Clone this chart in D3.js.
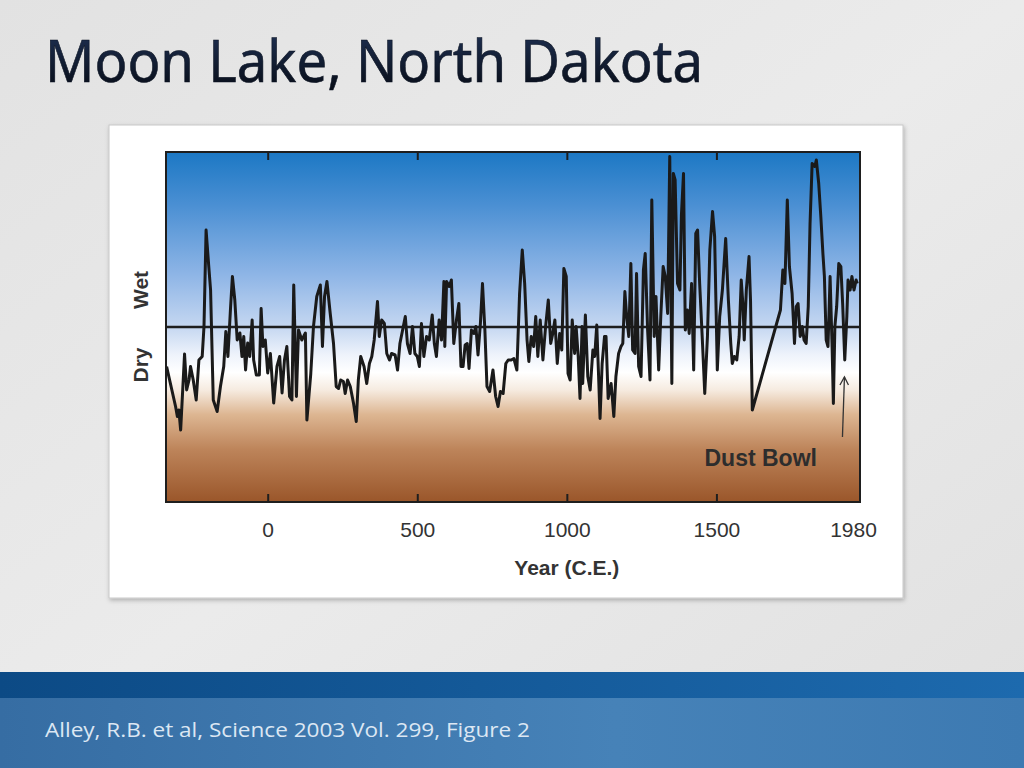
<!DOCTYPE html>
<html>
<head>
<meta charset="utf-8">
<script src="https://cdn.jsdelivr.net/npm/d3@7"></script>
<style>
  html, body { margin: 0; padding: 0; overflow: hidden; }
  svg { display: block; }
</style>
</head>
<body>
<script>
// Moon Lake moisture record (0 = long term mean)
var years = [-338,-308,-302,-297,-291,-278,-271,-263,-258,-249,-239,-230,-219,-213,-206,-197,-191,-182,-169,-158,
  -147,-140,-133,-124,-118,-110,-102,-93,-86,-80,-74,-67,-60,-52,-47,-38,-28,-22,-16,-8,
  0,9,20,31,40,48,56,64,73,81,87,96,103,114,126,
  131,144,153,164,176,183,190,198,209,220,229,237,244,253,259,267,276,287,296,303,
  311,322,331,340,348,356,367,373,381,390,398,407,414,426,434,442,451,460,467,476,
  484,492,500,507,514,522,531,540,550,557,564,573,581,589,
  592,598,607,614,622,631,639,646,653,660,667,673,681,689,696,703,711,718,726,733,
  742,753,762,770,778,787,796,804,814,823,833,842,851,859,867,873,881,889,896,903,
  911,920,929,938,946,953,960,968,976,983,990,998,1004,1011,1018,1026,1031,1038,1044,1051,
  1053,1062,1070,1078,1087,1093,1100,1107,1111,1118,1126,1131,1138,1148,1157,1164,1173,1181,1187,1194,
  1200,1207,1214,1220,1228,1233,1240,1248,1256,1262,1270,1278,1284,1292,1298,1307,1314,1322,1329,1337,
  1344,1351,1356,1362,1370,1378,1383,1390,1396,1403,1409,1417,1424,1431,1437,1444,1453,1461,1470,1478,
  1487,1494,1503,1511,1520,
  1531,1540,1548,1553,1560,1568,1576,1583,1589,1593,1600,1609,1614,1620,1714,1722,1729,1737,1744,1753,
  1761,1767,1773,1780,1787,1793,1800,1807,1813,1820,1829,1834,1842,1849,1856,1861,1867,1873,1880,1887,
  1891,1896,1902,1909,1916,1922,1929,1936,1940,1947,1953,1960,1967,1971];

var wetness = [-7.9,-15.9,-17.9,-16.6,-20.6,-5.4,-12.6,-10.6,-7.9,-10.6,-14.6,-6.6,-5.9,0.1,19.4,12.1,7.4,-14.6,-16.9,-11.9,
  -7.9,-0.9,-5.9,4.1,10.1,5.4,-2.6,-1.2,-5.9,-1.9,-8.6,-3.2,-5.9,1.4,-6.6,-9.6,-9.6,3.7,-3.9,-2.6,
  -9.2,-5.3,-15.2,-7.9,-5.9,-13.2,-6.6,-3.9,-13.9,-14.6,8.4,-13.9,-0.6,-2.6,-1.2,
  -18.6,-9.3,0.1,6.1,8.4,-3.9,6.1,9.1,2.7,-3.3,-11.9,-12.3,-10.6,-10.9,-13.3,-10.6,-11.9,-15.3,-18.9,-10.6,
  -5.9,-7.9,-11.3,-7.3,-5.9,-2.6,5.1,-1.9,1.4,0.7,-5.3,-6.6,-5.3,-5.6,-8.6,-3.3,-0.6,2.1,-3.3,-5.3,
  0.1,-5.3,-5.9,-7.9,0.7,-5.9,-1.9,-2.6,2.4,-3.3,-5.9,1.4,-2.6,9.1,
  -3.9,9.1,8.1,9.4,-3.3,1.4,4.7,-7.9,-7.9,-3.6,-3.3,-8.3,-0.6,-1.3,0.1,-5.6,0.7,8.7,-0.6,-11.9,
  -12.9,-8.6,-13.9,-15.9,-12.9,-13.3,-7.3,-6.6,-6.6,-6.3,-8.6,6.7,15.4,8.7,-2.6,-6.9,-1.9,-3.9,2.1,-5.9,
  1.4,-6.6,0.1,5.4,-3.3,-1.3,1.4,-7.3,-1.3,-4.6,11.7,10.1,-9.3,-10.6,1.4,-5.3,0.1,-5.9,-14.3,0.1,
  -11.3,2.4,-9.9,-12.6,-4.6,-5.9,0.4,-11.3,-18.3,-7.3,-1.9,-1.9,-14.3,-11.3,-17.9,-9.9,-5.3,-3.9,-3.3,7.1,
  2.1,-1.9,12.7,-4.6,-5.3,10.7,-7.9,-9.9,11.4,14.7,-0.6,-10.6,25.4,-1.9,6.1,-8.6,2.1,12.1,10.1,2.7,
  34.1,-11.3,30.7,29.4,8.7,7.4,22.4,30.7,-0.6,3.4,-1.3,8.7,-8.6,18.7,19.4,8.7,-2.6,-13.3,-1.9,15.4,
  23.1,18.1,-8.6,2.1,7.4,
  17.7,5.4,-3.3,-7.3,-5.9,-6.6,-1.9,9.4,4.1,-2.6,7.4,14.1,5.4,-16.6,3.4,11.4,8.7,25.4,12.1,6.7,
  -3.3,4.1,4.7,-1.9,0.1,-2.6,-3.3,4.1,20.7,32.7,32.1,33.4,28.7,22.1,14.7,10.1,-2.6,-3.9,10.1,-4.6,
  -15.3,0.1,4.1,12.7,12.1,4.7,-6.6,2.1,9.4,7.4,10.1,7.4,9.4,8.7];

var tickYears = [0, 500, 1000, 1500, 1980];
var innerTicks = [0, 500, 1000, 1500];

var width = 1024, height = 768;
var pLeft = 166, pRight = 860, pTop = 152, pBottom = 502;
var labelFont = "'Liberation Sans', Arial, Helvetica, sans-serif";

var svg = d3.select("body").append("svg")
  .attr("width", width)
  .attr("height", height);

var defs = svg.append("defs");

// slide background
var bg = defs.append("linearGradient").attr("id", "bg")
  .attr("x1", "0").attr("y1", "0").attr("x2", "1").attr("y2", "1");
bg.append("stop").attr("offset", "0%").attr("stop-color", "#e2e2e2");
bg.append("stop").attr("offset", "50%").attr("stop-color", "#ebebeb");
bg.append("stop").attr("offset", "100%").attr("stop-color", "#e0e0e0");

// plot fill: blue (wet) to brown (dry)
var pg = defs.append("linearGradient").attr("id", "plotfill")
  .attr("x1", "0").attr("y1", "0").attr("x2", "0").attr("y2", "1");
[["0%", "#1c78c4"], ["15%", "#4a8fd3"], ["35%", "#8eb5e6"], ["50%", "#c5d7f1"],
 ["58%", "#eef3fb"], ["63%", "#ffffff"], ["68%", "#f6ebe0"], ["75%", "#ddb692"],
 ["85%", "#bd845a"], ["100%", "#9a562a"]].forEach(function(s) {
  pg.append("stop").attr("offset", s[0]).attr("stop-color", s[1]);
});

var tg = defs.append("linearGradient").attr("id", "titlefill")
  .attr("x1", "0").attr("y1", "0").attr("x2", "0").attr("y2", "1");
tg.append("stop").attr("offset", "0%").attr("stop-color", "#22365c");
tg.append("stop").attr("offset", "100%").attr("stop-color", "#05080f");

var fg = defs.append("linearGradient").attr("id", "footdark")
  .attr("x1", "0").attr("y1", "0").attr("x2", "1").attr("y2", "0");
fg.append("stop").attr("offset", "0%").attr("stop-color", "#0c4a85");
fg.append("stop").attr("offset", "100%").attr("stop-color", "#1d6aae");

var fl = defs.append("linearGradient").attr("id", "footlight")
  .attr("x1", "0").attr("y1", "0").attr("x2", "1").attr("y2", "0");
fl.append("stop").attr("offset", "0%").attr("stop-color", "#366da3");
fl.append("stop").attr("offset", "60%").attr("stop-color", "#4682b8");
fl.append("stop").attr("offset", "100%").attr("stop-color", "#3d7ab2");

var shadow = defs.append("filter").attr("id", "shadow")
  .attr("x", "-5%").attr("y", "-5%").attr("width", "110%").attr("height", "110%");
shadow.append("feDropShadow").attr("dx", 1).attr("dy", 2).attr("stdDeviation", 2)
  .attr("flood-color", "#000").attr("flood-opacity", 0.25);

svg.append("rect").attr("width", width).attr("height", height).attr("fill", "url(#bg)");

// title
svg.append("text")
  .attr("x", 45).attr("y", 82)
  .attr("font-family", "'Noto Sans', sans-serif")
  .attr("font-size", 58)
  .attr("textLength", 658).attr("lengthAdjust", "spacingAndGlyphs")
  .attr("fill", "url(#titlefill)")
  .attr("stroke", "#0b1322").attr("stroke-width", 0.6)
  .text("Moon Lake, North Dakota");

// footer
svg.append("rect").attr("x", 0).attr("y", 672).attr("width", width).attr("height", 26).attr("fill", "url(#footdark)");
svg.append("rect").attr("x", 0).attr("y", 698).attr("width", width).attr("height", 70).attr("fill", "url(#footlight)");
svg.append("text")
  .attr("x", 45).attr("y", 737)
  .attr("font-family", "'Open Sans', sans-serif")
  .attr("font-size", 20)
  .attr("textLength", 485).attr("lengthAdjust", "spacingAndGlyphs")
  .attr("fill", "#dce7f3")
  .text("Alley, R.B. et al, Science 2003 Vol. 299, Figure 2");

// white figure panel
svg.append("rect")
  .attr("x", 109).attr("y", 125).attr("width", 794).attr("height", 473)
  .attr("fill", "#ffffff").attr("stroke", "#c8c8c8").attr("stroke-width", 1)
  .attr("filter", "url(#shadow)");

var xScale = d3.scaleLinear().domain([-340, 1980]).range([pLeft, pRight]);
var yScale = d3.scaleLinear().domain([-35, 35]).range([pBottom, pTop]);

svg.append("rect")
  .attr("x", pLeft).attr("y", pTop)
  .attr("width", pRight - pLeft).attr("height", pBottom - pTop)
  .attr("fill", "url(#plotfill)");

var line = d3.line()
  .x(function(d, i) { return xScale(years[i]); })
  .y(function(d) { return yScale(d); });

defs.append("clipPath").attr("id", "clip")
  .append("rect").attr("x", pLeft).attr("y", pTop)
  .attr("width", pRight - pLeft).attr("height", pBottom - pTop);

// mean line
svg.append("line")
  .attr("x1", pLeft).attr("x2", pRight)
  .attr("y1", yScale(0)).attr("y2", yScale(0))
  .attr("stroke", "#1e1e1e").attr("stroke-width", 2.5);

svg.append("path")
  .datum(wetness)
  .attr("d", line)
  .attr("clip-path", "url(#clip)")
  .attr("fill", "none")
  .attr("stroke", "#1a1a1a")
  .attr("stroke-width", 3)
  .attr("stroke-linejoin", "round");

// frame and inward ticks
svg.append("rect")
  .attr("x", pLeft).attr("y", pTop)
  .attr("width", pRight - pLeft).attr("height", pBottom - pTop)
  .attr("fill", "none").attr("stroke", "#1e1e1e").attr("stroke-width", 2);

svg.append("g")
  .attr("transform", "translate(0," + pBottom + ")")
  .call(d3.axisTop(xScale).tickValues(innerTicks).tickSize(8).tickFormat(""))
  .call(function(g) { g.select(".domain").remove(); g.selectAll("line").attr("stroke", "#1e1e1e").attr("stroke-width", 2); });

svg.append("g")
  .attr("transform", "translate(0," + pTop + ")")
  .call(d3.axisBottom(xScale).tickValues(innerTicks).tickSize(8).tickFormat(""))
  .call(function(g) { g.select(".domain").remove(); g.selectAll("line").attr("stroke", "#1e1e1e").attr("stroke-width", 2); });

// tick labels
var xAxis = svg.append("g")
  .attr("transform", "translate(0," + pBottom + ")")
  .call(d3.axisBottom(xScale).tickValues(tickYears).tickSize(0).tickPadding(20).tickFormat(d3.format("d")));
xAxis.select(".domain").remove();
xAxis.selectAll("text")
  .attr("font-family", labelFont)
  .attr("font-size", 21)
  .attr("fill", "#333")
  .attr("dx", function(d) { return d === 1980 ? -7 : 0; });

svg.append("text")
  .attr("x", xScale(1000)).attr("y", 575)
  .attr("text-anchor", "middle")
  .attr("font-family", labelFont)
  .attr("font-weight", "bold").attr("font-size", 21)
  .attr("fill", "#333")
  .text("Year (C.E.)");

// Wet / Dry labels
[["Wet", 7.4], ["Dry", -7.6]].forEach(function(l) {
  svg.append("text")
    .attr("transform", "translate(148," + yScale(l[1]) + ") rotate(-90)")
    .attr("text-anchor", "middle")
    .attr("font-family", labelFont)
    .attr("font-weight", "bold").attr("font-size", 21)
    .attr("fill", "#333")
    .text(l[0]);
});

// Dust Bowl annotation
svg.append("text")
  .attr("x", xScale(1836)).attr("y", yScale(-27.8))
  .attr("text-anchor", "end")
  .attr("font-family", labelFont)
  .attr("font-weight", "bold").attr("font-size", 23)
  .attr("fill", "#2d2d2d")
  .text("Dust Bowl");

var ax = xScale(1928), ay1 = yScale(-22), ay2 = yScale(-10);
svg.append("line")
  .attr("x1", ax - 2).attr("y1", ay1).attr("x2", ax).attr("y2", ay2)
  .attr("stroke", "#333").attr("stroke-width", 1.3);
svg.append("path")
  .attr("d", "M" + (ax - 4.5) + "," + (ay2 + 8) + "L" + ax + "," + ay2 + "L" + (ax + 4) + "," + (ay2 + 8))
  .attr("fill", "none").attr("stroke", "#333").attr("stroke-width", 1.3);
</script>
</body>
</html>
